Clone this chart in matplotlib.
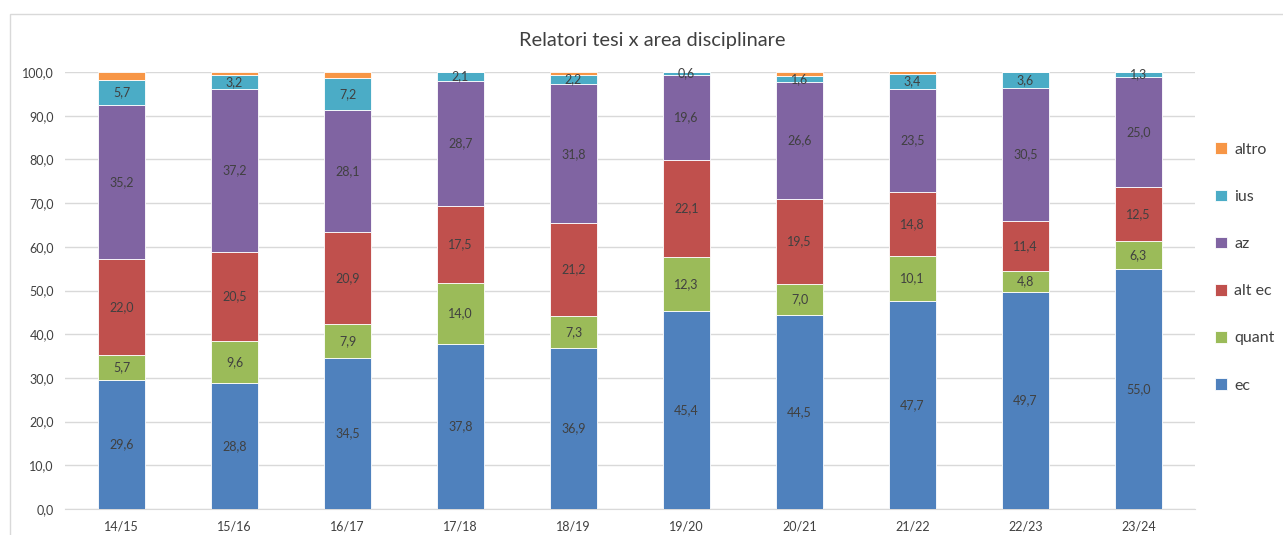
import numpy as np
import matplotlib.pyplot as plt
from matplotlib.patches import Rectangle

plt.rcParams['font.family'] = ['Lato', 'DejaVu Sans']

years = ['14/15', '15/16', '16/17', '17/18', '18/19', '19/20', '20/21', '21/22', '22/23', '23/24']
ec = [29.6, 28.8, 34.5, 37.8, 36.9, 45.4, 44.5, 47.7, 49.7, 55.0]
quant = [5.7, 9.6, 7.9, 14.0, 7.3, 12.3, 7.0, 10.1, 4.8, 6.3]
alt_ec = [22.0, 20.5, 20.9, 17.5, 21.2, 22.1, 19.5, 14.8, 11.4, 12.5]
az = [35.2, 37.2, 28.1, 28.7, 31.8, 19.6, 26.6, 23.5, 30.5, 25.0]
ius = [5.7, 3.2, 7.2, 2.1, 2.2, 0.6, 1.6, 3.4, 3.6, 1.3]
altro = [1.8, 0.7, 1.4, 0.0, 0.6, 0.0, 0.8, 0.7, 0.0, 0.0]

series = [('ec', ec, '#4f81bd'), ('quant', quant, '#9bbb59'), ('alt ec', alt_ec, '#c0504d'),
          ('az', az, '#8064a2'), ('ius', ius, '#4bacc6'), ('altro', altro, '#f79646')]

fig = plt.figure(figsize=(12.83, 5.35), dpi=100)
ax = fig.add_axes([0.0507, 0.0486, 0.8807, 0.8168])

x = np.arange(len(years))
bottom = np.zeros(len(years))
handles = []
for name, vals, col in series:
    vals = np.array(vals)
    bars = ax.bar(x, vals, 0.41, bottom=bottom, color=col, edgecolor='white', linewidth=0.6, label=name, zorder=3)
    handles.append(bars)
    if name != 'altro':
        for xi, b, v in zip(x, bottom, vals):
            ax.text(xi, b + v / 2, f'{v:.1f}'.replace('.', ','), ha='center', va='center',
                    fontsize=9, color='#404040', zorder=4)
    bottom += vals

ax.set_xlim(-0.5, len(years) - 0.5)
ax.set_ylim(0, 100)
ax.set_yticks(np.arange(0, 101, 10))
ax.set_yticklabels([f'{v:.1f}'.replace('.', ',') for v in np.arange(0, 101, 10)])
ax.set_xticks(x)
ax.set_xticklabels(years)
ax.tick_params(axis='both', length=0, labelsize=9, colors='#404040')
ax.tick_params(axis='x', pad=8)
ax.tick_params(axis='y', pad=8)
ax.yaxis.grid(True, color='#d9d9d9', linewidth=1, zorder=0)
for s in ['top', 'right', 'left']:
    ax.spines[s].set_visible(False)
ax.spines['bottom'].set_color('#d9d9d9')

fig.text(0.508, 0.925, 'Relatori tesi x area disciplinare', ha='center', va='center',
         fontsize=14.4, color='#404040')

leg = fig.legend(handles[::-1], [s[0] for s in series][::-1], loc='center left',
                 bbox_to_anchor=(0.936, 0.5), frameon=False, fontsize=11.5,
                 labelspacing=2.05, handlelength=0.75, handleheight=0.75, handletextpad=0.45)
for t in leg.get_texts():
    t.set_color('#404040')

fig.patches.append(Rectangle((10 / 1283, -0.1), 1.2, 1 - 14 / 535 + 0.1, transform=fig.transFigure,
                             fill=False, edgecolor='#d9d9d9', linewidth=1))

fig.savefig('out.png', dpi=100)
